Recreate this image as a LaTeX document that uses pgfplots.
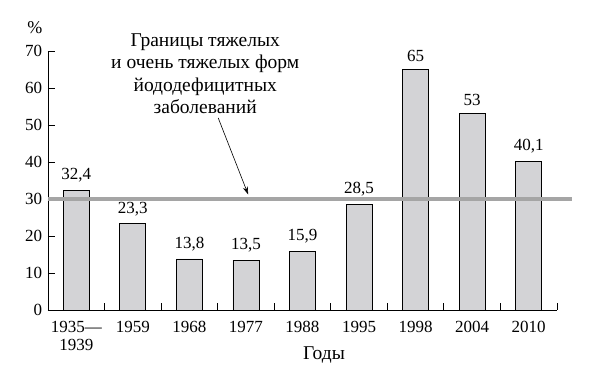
\documentclass[border=0pt]{standalone}
\usepackage{fontspec}
\setmainfont{Liberation Serif}
\usepackage{pgfplots}
\usepackage{pgfplotstable}
\usetikzlibrary{arrows.meta}
\pgfplotsset{compat=1.18}
\definecolor{barfill}{RGB}{211,211,214}
\definecolor{linegray}{RGB}{165,165,165}
\pgfplotstableread{
x y lab
0 32.4 {32,4}
1 23.3 {23,3}
2 13.8 {13,8}
3 13.5 {13,5}
4 15.9 {15,9}
5 28.5 {28,5}
6 65 {65}
7 53 {53}
8 40.1 {40,1}
}\datatable
\begin{document}
\fontsize{17}{19}\selectfont
\begin{tikzpicture}
\path[use as bounding box] (-48pt,-67pt) rectangle (547pt,310pt);
\begin{axis}[
  scale only axis,
  width=509pt, height=259pt,
  xmin=-0.5, xmax=8.5,
  ymin=0, ymax=70,
  axis x line*=bottom,
  axis y line*=left,
  axis line style={line width=0.9pt, -},
  clip=false,
  ytick={0,10,...,70},
  xtick={0,...,8},
  xticklabels={{1935---\\1939},1959,1968,1977,1988,1995,1998,2004,2010},
  minor xtick={0.5,1.5,...,8.5},
  x tick label style={align=center, yshift=-5pt, font=\fontsize{17}{18}\selectfont},
  y tick label style={font=\fontsize{17}{17}\selectfont},
  /pgf/number format/assume math mode=true,
  major tick length=7pt,
  minor tick length=7pt,
  xtick style={draw=none},
  minor x tick style={draw=black, line width=0.8pt},
  ytick style={line width=0.8pt},
  tick align=inside,
  every tick/.style={black},
]
\addplot[ybar, bar width=26pt, fill=barfill, draw=black, line width=0.8pt,
  nodes near coords, point meta=explicit symbolic,
  every node near coord/.append style={font=\fontsize{17}{17}\selectfont, yshift=2pt}]
  table[x=x, y=y, meta=lab] {\datatable};
\addplot[linegray, line width=3.5pt, forget plot] coordinates {(-0.5,30) (8.76,30)};
\draw[-{Stealth[length=8pt,width=5pt]}, line width=0.6pt] (axis cs:2.51,51.9) -- (axis cs:3.04,31.2);
\node[anchor=north, align=center, font=\fontsize{19.5}{22.5}\selectfont, inner sep=0pt] at (axis cs:2.28,74.8)
  {Границы тяжелых\\и очень тяжелых форм\\йододефицитных\\заболеваний};
\node[font=\fontsize{18}{17}\selectfont] at (axis cs:-0.73,76.4) {\%};
\node[anchor=north, font=\fontsize{19.5}{19}\selectfont, inner sep=0pt] at (axis cs:4.38,0) [yshift=-37pt] {Годы};
\end{axis}
\end{tikzpicture}
\end{document}
